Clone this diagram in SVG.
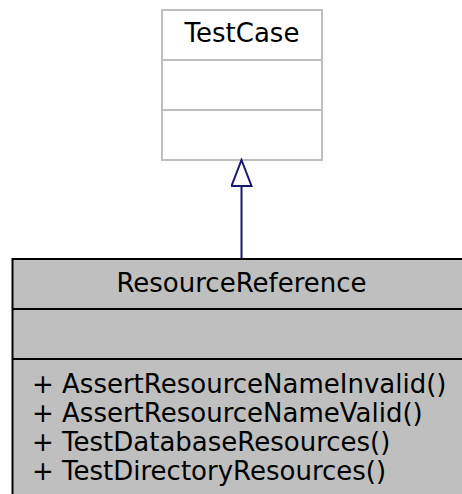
<svg xmlns="http://www.w3.org/2000/svg" width="462" height="494" viewBox="0 0 462 494">
<style>
text { font-family: "DejaVu Sans", sans-serif; font-size: 26px; fill: #000000; }
.c { text-anchor: middle; }
.base { fill: #ffffff; stroke: #bfbfbf; stroke-width: 2; }
.sep0 { stroke: #bfbfbf; stroke-width: 2; }
.node { fill: #bfbfbf; stroke: #000000; stroke-width: 2; }
.sep1 { stroke: #000000; stroke-width: 2; }
.edge { stroke: #191970; stroke-width: 2; fill: none; }
</style>
<defs>
<marker id="inh" markerWidth="30" markerHeight="22" refX="2" refY="11" orient="auto" markerUnits="userSpaceOnUse" viewBox="0 0 30 22">
<path d="M2,1 L28,11 L2,21 Z" fill="#ffffff" stroke="#191970" stroke-width="2"/>
</marker>
</defs>
<g id="TestCase">
<rect class="base" x="162" y="10" width="160" height="150"/>
<line class="sep0" x1="162" y1="60" x2="322" y2="60"/>
<line class="sep0" x1="162" y1="110" x2="322" y2="110"/>
<text class="c" x="242" y="42">TestCase</text>
</g>
<g id="ResourceReference">
<rect class="node" x="12.5" y="259" width="462" height="250"/>
<line class="sep1" x1="12.5" y1="309" x2="475" y2="309"/>
<line class="sep1" x1="12.5" y1="359" x2="475" y2="359"/>
<text class="c" x="241.5" y="292">ResourceReference</text>
<text x="32" y="393">+ AssertResourceNameInvalid()</text>
<text x="32" y="422">+ AssertResourceNameValid()</text>
<text x="32" y="451">+ TestDatabaseResources()</text>
<text x="32" y="480">+ TestDirectoryResources()</text>
</g>
<g id="connectors">
<line class="edge" x1="241.5" y1="258" x2="241.5" y2="186" marker-end="url(#inh)"/>
</g>
</svg>
